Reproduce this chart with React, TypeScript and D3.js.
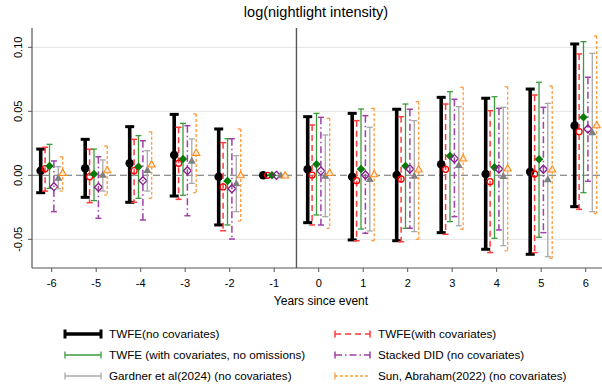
import React from "react";
import * as d3 from "d3";

const years = [-6, -5, -4, -3, -2, -1, 0, 1, 2, 3, 4, 5, 6];
const yTicks = [-0.05, 0, 0.05, 0.1];
const yTickLabels = ["-0.05", "0.00", "0.05", "0.10"];

const twfeEst = [0.0036, 0.0055, 0.0094, 0.0159, -0.0011, 0, 0.0047, -0.0011, 0.0002, 0.0086, 0.001, 0.0028, 0.0388];
const twfeLo = [-0.0136, -0.0172, -0.0211, -0.0162, -0.0388, 0, -0.037, -0.0505, -0.0511, -0.0448, -0.0578, -0.0617, -0.0245];
const twfeHi = [0.0205, 0.0281, 0.038, 0.0476, 0.0362, 0, 0.0458, 0.0484, 0.0516, 0.0609, 0.0602, 0.0674, 0.1026];

const covEst = [0.0052, -0.0011, 0.0036, 0.0094, -0.0091, 0, 0.0002, -0.0042, -0.0029, 0.0047, -0.005, 0.001, 0.0341];
const covLo = [-0.0123, -0.0214, -0.0211, -0.0188, -0.0433, 0, -0.0388, -0.0511, -0.0519, -0.0461, -0.0604, -0.0604, -0.0266];
const covHi = [0.0219, 0.0203, 0.0281, 0.0375, 0.0255, 0, 0.0393, 0.0427, 0.0458, 0.0557, 0.0505, 0.0627, 0.0948];

const noOmEst = [0.0073, 0.001, 0.0067, 0.0127, -0.0045, 0, 0.0086, 0.0049, 0.0073, 0.0151, 0.0062, 0.0125, 0.0453];
const noOmLo = [-0.0102, -0.0198, -0.018, -0.0156, -0.0388, 0, -0.031, -0.042, -0.0414, -0.0362, -0.0492, -0.0484, -0.0136];
const noOmHi = [0.0242, 0.0205, 0.031, 0.0406, 0.0286, 0, 0.0484, 0.0518, 0.0557, 0.0653, 0.0614, 0.0727, 0.1044];

const stackEst = [-0.0089, -0.0094, -0.0042, 0.0036, -0.0105, 0, 0.0034, 0.0002, 0.0049, 0.013, 0.0049, 0.0047, 0.0362];
const stackLo = [-0.0284, -0.0336, -0.0349, -0.0316, -0.0498, 0, -0.0388, -0.0453, -0.0414, -0.0323, -0.0427, -0.0448, -0.0047];
const stackHi = [0.0112, 0.0145, 0.027, 0.0388, 0.0286, 0, 0.0453, 0.0466, 0.0516, 0.0594, 0.0523, 0.0531, 0.0766];

const gardEst = [-0.0019, 0.0005, 0.0041, 0.0114, -0.0063, 0, -0.0003, -0.0029, -0.0003, 0.008, -0.0005, -0.0031, 0.0336];
const gardLo = [-0.0105, -0.0123, -0.0123, -0.0063, -0.0284, 0, -0.0323, -0.0435, -0.044, -0.0394, -0.055, -0.0636, -0.0284];
const gardHi = [0.0067, 0.012, 0.0192, 0.0284, 0.0153, 0, 0.0315, 0.0375, 0.0427, 0.0536, 0.0531, 0.0562, 0.0953];

const sunEst = [0.002, 0.0041, 0.0086, 0.0177, 0.0002, 0, 0.002, 0.001, 0.0047, 0.0133, 0.0055, 0.0047, 0.0393];
const sunLo = [-0.0123, -0.0154, -0.018, -0.0136, -0.0357, 0, -0.0414, -0.0511, -0.05, -0.0422, -0.0589, -0.0648, -0.0297];
const sunHi = [0.0145, 0.0229, 0.034, 0.0479, 0.0362, 0, 0.0445, 0.0523, 0.0575, 0.0688, 0.0692, 0.0698, 0.1088];

const seriesNames = [
  "TWFE(no covariates)",
  "TWFE(with covariates)",
  "TWFE (with covariates, no omissions)",
  "Stacked DID (no covariates)",
  "Gardner et al(2024) (no covariates)",
  "Sun, Abraham(2022) (no covariates)",
];

type Style = {
  line: string;
  marker: string;
  width: number;
  dash?: string;
  capL: number;
  capR: number;
  capW: number;
  shape: "circle" | "ocircle" | "diamond" | "odiamond" | "triangle" | "otriangle";
  size: number;
};

const styles: Style[] = [
  { line: "#000000", marker: "#000000", width: 3.6, capL: 4.5, capR: 4.5, capW: 3, shape: "circle", size: 4.3 },
  { line: "#ff3b3b", marker: "#ff0000", width: 1.5, dash: "6,4", capL: 3, capR: 3, capW: 1.5, shape: "ocircle", size: 3 },
  { line: "#3c9c3c", marker: "#087a08", width: 1.3, capL: 3, capR: 3, capW: 1.3, shape: "diamond", size: 4.3 },
  { line: "#a040a8", marker: "#8a1a8a", width: 1.5, dash: "7,3,1.5,3", capL: 3, capR: 3, capW: 1.5, shape: "odiamond", size: 4 },
  { line: "#a8a8a8", marker: "#808080", width: 1.3, capL: 3, capR: 3, capW: 1.3, shape: "triangle", size: 4 },
  { line: "#ff9a3c", marker: "#ff8c1a", width: 1.3, dash: "3,2", capL: 3, capR: 0, capW: 1.3, shape: "otriangle", size: 3.6 },
];

const estArr = [twfeEst, covEst, noOmEst, stackEst, gardEst, sunEst];
const loArr = [twfeLo, covLo, noOmLo, stackLo, gardLo, sunLo];
const hiArr = [twfeHi, covHi, noOmHi, stackHi, gardHi, sunHi];

const W = 602;
const H = 385;
const plotLeft = 32;
const plotRight = 606;
const plotTop = 28;
const plotBottom = 268;

const x = d3.scaleLinear().domain([-6, 6]).range([51.7, 585.7]);
const y = d3.scaleLinear().domain([-0.05, 0.1]).range([239.3, 47.3]);

function Marker({ cx, cy, st }: { cx: number; cy: number; st: Style }) {
  const s = st.size;
  switch (st.shape) {
    case "circle":
      return <circle cx={cx} cy={cy} r={s} fill={st.marker} />;
    case "ocircle":
      return <circle cx={cx} cy={cy} r={s} fill="none" stroke={st.marker} strokeWidth={1.3} />;
    case "diamond":
      return <path d={`M${cx},${cy - s}L${cx + s},${cy}L${cx},${cy + s}L${cx - s},${cy}Z`} fill={st.marker} />;
    case "odiamond":
      return (
        <path
          d={`M${cx},${cy - s}L${cx + s},${cy}L${cx},${cy + s}L${cx - s},${cy}Z`}
          fill="none"
          stroke={st.marker}
          strokeWidth={1.3}
        />
      );
    case "triangle":
      return (
        <path d={`M${cx},${cy - s}L${cx + s},${cy + s * 0.75}L${cx - s},${cy + s * 0.75}Z`} fill={st.marker} />
      );
    case "otriangle":
      return (
        <path
          d={`M${cx},${cy - s}L${cx + s},${cy + s * 0.75}L${cx - s},${cy + s * 0.75}Z`}
          fill="#ffe9d2"
          stroke={st.marker}
          strokeWidth={1.1}
        />
      );
  }
  return null;
}

export default function App() {
  const font = "'Liberation Sans', Arial, Helvetica, sans-serif";
  const offset = (i: number) => (i - 2.5) * 4.4;
  const legendRows = [334, 355, 376];
  const legendCols = [{ x0: 65, x1: 101, tx: 109 }, { x0: 335, x1: 370, tx: 378 }];
  return (
    <svg
      width={W}
      height={H}
      style={{ position: "absolute", left: 0, top: 0, background: "#fff" }}
      fontFamily={font}
    >
      <rect x={0} y={0} width={W} height={H} fill="#fff" />
      <text x={316} y={17} textAnchor="middle" fontSize={14.5} fill="#000">
        log(nightlight intensity)
      </text>
      {yTicks.map((t) =>
        t === 0 ? null : (
          <line key={"g" + t} x1={plotLeft} x2={plotRight} y1={y(t)} y2={y(t)} stroke="#e3e3e3" strokeWidth={1} />
        )
      )}
      <line x1={plotLeft} x2={plotRight} y1={y(0)} y2={y(0)} stroke="#6e6e6e" strokeWidth={1.1} strokeDasharray="7,4" />
      <line x1={x(-0.5)} x2={x(-0.5)} y1={plotTop} y2={plotBottom} stroke="#555" strokeWidth={1.4} />
      <line x1={plotLeft} x2={plotLeft} y1={plotTop} y2={plotBottom} stroke="#555" strokeWidth={1.2} />
      <line x1={plotLeft} x2={plotRight} y1={plotBottom} y2={plotBottom} stroke="#555" strokeWidth={1.2} />
      {yTicks.map((t, i) => (
        <g key={"yt" + t}>
          <line x1={plotLeft - 4} x2={plotLeft} y1={y(t)} y2={y(t)} stroke="#555" strokeWidth={1} />
          <text
            transform={`translate(21.5,${y(t)}) rotate(-90)`}
            textAnchor="middle"
            fontSize={11}
            fill="#000"
          >
            {yTickLabels[i]}
          </text>
        </g>
      ))}
      {years.map((yr) => (
        <g key={"xt" + yr}>
          <line x1={x(yr)} x2={x(yr)} y1={plotBottom} y2={plotBottom + 4} stroke="#555" strokeWidth={1} />
          <text x={x(yr)} y={287} textAnchor="middle" fontSize={11} fill="#000">
            {yr}
          </text>
        </g>
      ))}
      <text x={321} y={305} textAnchor="middle" fontSize={12} fill="#000">
        Years since event
      </text>
      {styles.map((st, si) => (
        <g key={"s" + si}>
          {years.map((yr, j) => {
            const cx = x(yr) + offset(si);
            const lo = loArr[si][j];
            const hi = hiArr[si][j];
            if (lo === hi) return null;
            return (
              <g key={"ci" + j}>
                <line
                  x1={cx}
                  x2={cx}
                  y1={y(hi)}
                  y2={y(lo)}
                  stroke={st.line}
                  strokeWidth={st.width}
                  strokeDasharray={st.dash}
                />
                <line x1={cx - st.capL} x2={cx + st.capR} y1={y(hi)} y2={y(hi)} stroke={st.line} strokeWidth={st.capW} />
                <line x1={cx - st.capL} x2={cx + st.capR} y1={y(lo)} y2={y(lo)} stroke={st.line} strokeWidth={st.capW} />
              </g>
            );
          })}
          {years.map((yr, j) => (
            <Marker key={"m" + j} cx={x(yr) + offset(si)} cy={y(estArr[si][j])} st={st} />
          ))}
        </g>
      ))}
      {seriesNames.map((name, i) => {
        const col = legendCols[i % 2];
        const ry = legendRows[Math.floor(i / 2)];
        const st = styles[i];
        const capH = i === 0 ? 4.5 : 3.5;
        return (
          <g key={"lg" + i}>
            <line
              x1={col.x0}
              x2={col.x1}
              y1={ry}
              y2={ry}
              stroke={st.line}
              strokeWidth={st.width}
              strokeDasharray={st.dash}
            />
            <line x1={col.x0} x2={col.x0} y1={ry - capH} y2={ry + capH} stroke={st.line} strokeWidth={st.capW} />
            {st.capR > 0 && (
              <line x1={col.x1} x2={col.x1} y1={ry - capH} y2={ry + capH} stroke={st.line} strokeWidth={st.capW} />
            )}
            <text x={col.tx} y={ry + 4} fontSize={11.7} fill="#000">
              {name}
            </text>
          </g>
        );
      })}
    </svg>
  );
}
